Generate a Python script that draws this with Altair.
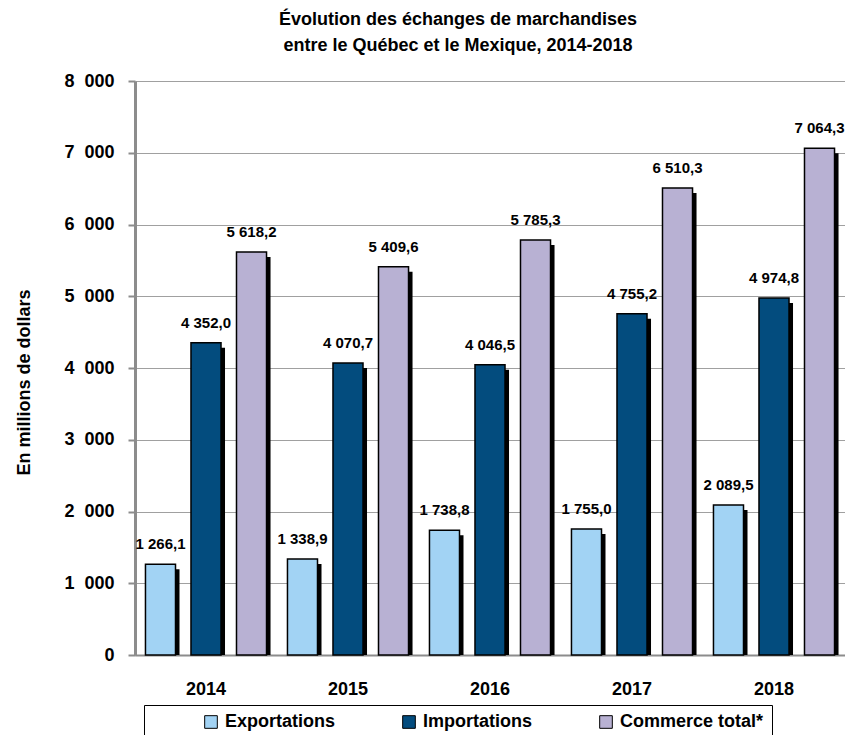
import altair as alt
import pandas as pd

years = ["2014", "2015", "2016", "2017", "2018"]
series = ["Exportations", "Importations", "Commerce total*"]
exportations = [1266.1, 1338.9, 1738.8, 1755.0, 2089.5]
importations = [4352.0, 4070.7, 4046.5, 4755.2, 4974.8]
commerce = [5618.2, 5409.6, 5785.3, 6510.3, 7064.3]
colors = ["#A2D3F4", "#034C7E", "#B8B1D3"]
y_ticks = [0, 1000, 2000, 3000, 4000, 5000, 6000, 7000, 8000]

def fmt(v):
    return f"{v:,.1f}".replace(",", "\u00a0").replace(".", ",")

rows = []
for name, vals in zip(series, [exportations, importations, commerce]):
    for yr, v in zip(years, vals):
        rows.append({"year": yr, "series": name, "value": v, "label": fmt(v)})
df = pd.DataFrame(rows)

FONT = "Liberation Sans Narrow, Arial Narrow, Liberation Sans, Arial, sans-serif"

x_enc = alt.X("year:N", sort=years, title=None,
              scale=alt.Scale(paddingInner=0, paddingOuter=0),
              axis=alt.Axis(labelAngle=0, ticks=False, labelPadding=25,
                            labelFontSize=18, labelFontWeight="bold",
                            labelFont=FONT, domainColor="#8c8c8c",
                            domainWidth=2, grid=False))
xo_enc = alt.XOffset("series:N", sort=series,
                     scale=alt.Scale(type="band", paddingInner=0.34, paddingOuter=0.23))
xo_shadow = alt.XOffset("series:N", sort=series,
                        scale=alt.Scale(type="band", paddingInner=0.34, paddingOuter=0.23,
                                        range=[4, 146]))
y_enc = alt.Y("value:Q", title="En millions de dollars",
              scale=alt.Scale(domain=[0, 8000], nice=False),
              axis=alt.Axis(values=y_ticks,
                            labelExpr="replace(format(datum.value, ',d'), ',', '\u00a0\u00a0')",
                            labelFontSize=18, labelFontWeight="bold", labelFont=FONT,
                            labelPadding=14, tickSize=7, tickColor="#8c8c8c",
                            tickWidth=2, domainColor="#8c8c8c", domainWidth=3,
                            gridColor="#a0a0a0", gridWidth=1,
                            titleFontSize=18, titleFontWeight="bold", titleFont=FONT,
                            titleAngle=-90, titleX=-111, titleY=301,
                            titleBaseline="middle", titleAlign="center"))

base = alt.Chart(df)

shadow = base.mark_bar(color="black", yOffset=5, clip=True).encode(
    x=x_enc, xOffset=xo_shadow, y=y_enc)

bars = base.mark_bar(stroke="black", strokeWidth=1.5).encode(
    x=x_enc, xOffset=xo_enc, y=y_enc,
    color=alt.Color("series:N", sort=series,
                    scale=alt.Scale(domain=series, range=colors),
                    legend=alt.Legend(title=None, orient="none", legendX=9, legendY=624,
                                      direction="horizontal", symbolType="square",
                                      symbolSize=160, symbolStrokeColor="black",
                                      symbolStrokeWidth=1, labelFontSize=18,
                                      labelFontWeight="bold", labelFont=FONT,
                                      labelOffset=5, columnPadding=14, padding=8,
                                      symbolOffset=50, gridAlign="none",
                                      labelExpr="datum.label == 'Commerce total*' ? datum.label + '\u00a0\u00a0\u00a0\u00a0\u00a0\u00a0\u00a0\u00a0\u00a0\u00a0\u00a0' : datum.label",
                                      strokeColor="black", fillColor="white")))

labels = base.mark_text(dy=-20, fontSize=15, fontWeight="bold", font=FONT,
                        baseline="middle", color="black").encode(
    x=x_enc, xOffset=xo_enc, y=y_enc, text="label:N")

chart = alt.layer(shadow, bars, labels).resolve_scale(xOffset="independent").properties(
    width=710, height=574,
    autosize=alt.AutoSizeParams(type="none"),
    padding={"left": 127, "top": 73, "right": 0, "bottom": 80},
    title=alt.Title(["Évolution des échanges de marchandises",
                     "entre le Québec et le Mexique, 2014-2018"],
                    fontSize=18, fontWeight="bold", font=FONT, lineHeight=26,
                    anchor="middle", dx=-32, offset=17, color="black"),
).configure_view(strokeWidth=0).configure(background="white")

chart.save("out.html", embed_options={"renderer": "svg", "actions": False})
